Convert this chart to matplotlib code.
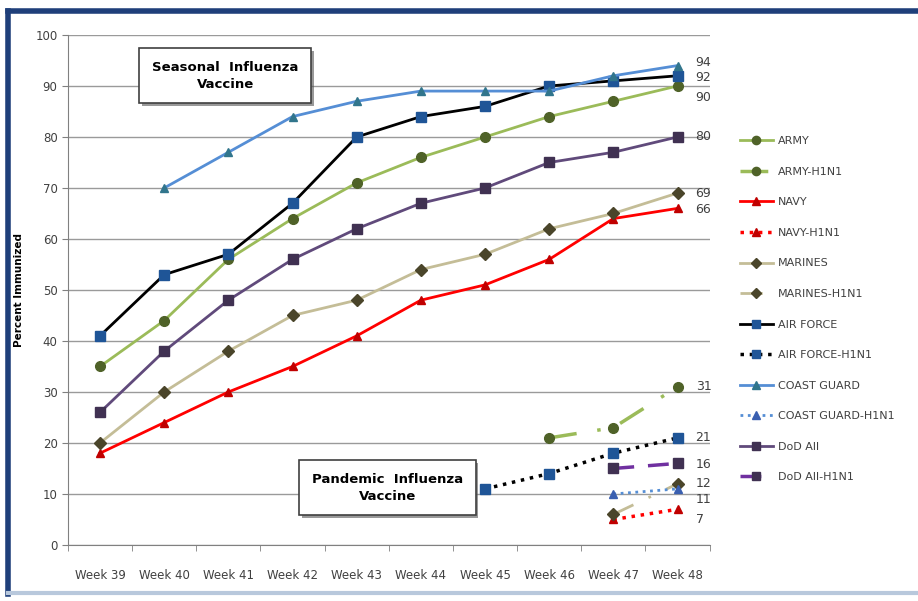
import matplotlib
matplotlib.use('Agg')
import matplotlib.pyplot as plt
import matplotlib.patheffects as pe
from matplotlib.lines import Line2D
from matplotlib.ticker import FixedLocator

# Weekly immunization percentages (None = no report that week)
weeks = ['Week 39', 'Week 40', 'Week 41', 'Week 42', 'Week 43',
         'Week 44', 'Week 45', 'Week 46', 'Week 47', 'Week 48']

army = [35, 44, 56, 64, 71, 76, 80, 84, 87, 90]
army_h1n1 = [None, None, None, None, None, None, None, 21, 23, 31]
navy = [18, 24, 30, 35, 41, 48, 51, 56, 64, 66]
navy_h1n1 = [None, None, None, None, None, None, None, None, 5, 7]
marines = [20, 30, 38, 45, 48, 54, 57, 62, 65, 69]
marines_h1n1 = [None, None, None, None, None, None, None, None, 6, 12]
air_force = [41, 53, 57, 67, 80, 84, 86, 90, 91, 92]
air_force_h1n1 = [None, None, None, None, None, None, 11, 14, 18, 21]
coast_guard = [None, 70, 77, 84, 87, 89, 89, 89, 92, 94]
coast_guard_h1n1 = [None, None, None, None, None, None, None, None, 10, 11]
dod_all = [26, 38, 48, 56, 62, 67, 70, 75, 77, 80]
dod_all_h1n1 = [None, None, None, None, None, None, None, None, 15, 16]

series = [
    ('ARMY', army),
    ('ARMY-H1N1', army_h1n1),
    ('NAVY', navy),
    ('NAVY-H1N1', navy_h1n1),
    ('MARINES', marines),
    ('MARINES-H1N1', marines_h1n1),
    ('AIR FORCE', air_force),
    ('AIR FORCE-H1N1', air_force_h1n1),
    ('COAST GUARD', coast_guard),
    ('COAST GUARD-H1N1', coast_guard_h1n1),
    ('DoD All', dod_all),
    ('DoD All-H1N1', dod_all_h1n1),
]

# line colour, marker colour, marker, linestyle, linewidth
styles = {
    'ARMY':             ('#9BBB59', '#4F6228', 'o', '-', 2.0),
    'ARMY-H1N1':        ('#9BBB59', '#4F6228', 'o', (0, (8, 6, 1, 6)), 2.5),
    'NAVY':             ('#FF0000', '#C00000', '^', '-', 2.0),
    'NAVY-H1N1':        ('#FF0000', '#C00000', '^', ':', 2.5),
    'MARINES':          ('#C4BD97', '#4A452A', 'D', '-', 2.0),
    'MARINES-H1N1':     ('#C4BD97', '#4A452A', 'D', (0, (8, 6, 1, 6)), 2.0),
    'AIR FORCE':        ('#000000', '#1F5597', 's', '-', 2.0),
    'AIR FORCE-H1N1':   ('#000000', '#1F5597', 's', ':', 2.5),
    'COAST GUARD':      ('#558ED5', '#31758C', '^', '-', 2.0),
    'COAST GUARD-H1N1': ('#558ED5', '#3A5FB0', '^', ':', 2.0),
    'DoD All':          ('#604A7B', '#403152', 's', '-', 2.0),
    'DoD All-H1N1':     ('#7030A0', '#403152', 's', (0, (6, 4)), 2.5),
}

fig = plt.figure(figsize=(9.18, 6.01), dpi=100)
ax = fig.add_axes([0.074, 0.0932, 0.699, 0.8486])

x = list(range(len(weeks)))
for name, vals in series:
    lc, mc, mk, ls, lw = styles[name]
    xs = [i for i, v in zip(x, vals) if v is not None]
    ys = [v for v in vals if v is not None]
    ms = 7 if mk in ('o', 's') else 6
    ax.plot(xs, ys, color=lc, linestyle=ls, linewidth=lw, marker=mk,
            markersize=ms, markerfacecolor=mc, markeredgecolor=mc,
            label=name, zorder=3)

# value labels at the last week (name, vertical nudge in points)
end_labels = [('COAST GUARD', 2), ('AIR FORCE', -1), ('ARMY', -8), ('DoD All', 0),
              ('MARINES', 0), ('NAVY', -1), ('ARMY-H1N1', 0), ('AIR FORCE-H1N1', 0),
              ('DoD All-H1N1', -1), ('MARINES-H1N1', 0), ('COAST GUARD-H1N1', -8),
              ('NAVY-H1N1', -7)]
vals_by_name = dict(series)
for name, dy in end_labels:
    v = vals_by_name[name][-1]
    ax.annotate(str(v), xy=(9, v), xytext=(13, dy), textcoords='offset points',
                va='center', ha='left', fontsize=9, color='#404040')

ax.set_xlim(-0.5, 9.5)
ax.set_ylim(0, 100)
ax.set_yticks(range(0, 101, 10))
ax.set_xticks(x)
ax.set_xticklabels(weeks, fontsize=8.5, color='#404040')
ax.xaxis.set_minor_locator(FixedLocator([i + 0.5 for i in range(-1, 10)]))
ax.tick_params(axis='x', which='major', length=0, pad=17)
ax.tick_params(axis='x', which='minor', length=4, color='#808080')
ax.tick_params(axis='y', length=4, color='#808080', labelsize=8.5, labelcolor='#404040')
ax.grid(axis='y', color='#9A9A9A', linewidth=1)
ax.set_axisbelow(True)
for s in ('top', 'right'):
    ax.spines[s].set_visible(False)
for s in ('left', 'bottom'):
    ax.spines[s].set_color('#808080')
ax.set_ylabel('Percent Immunized', fontsize=7.5, fontweight='bold', labelpad=8)

# caption boxes
for txt, bx, by in [('Seasonal  Influenza\nVaccine', 0.245, 0.92),
                    ('Pandemic  Influenza\nVaccine', 0.498, 0.112)]:
    t = ax.text(bx, by, txt, transform=ax.transAxes, ha='center', va='center',
                fontsize=9.5, fontweight='bold', linespacing=1.4, zorder=5,
                bbox=dict(boxstyle='square,pad=0.95', facecolor='white',
                          edgecolor='#404040', linewidth=1.2))
    t.get_bbox_patch().set_path_effects(
        [pe.withSimplePatchShadow(offset=(2, -2), shadow_rgbFace='#555555', alpha=0.6)])

handles, labels = ax.get_legend_handles_labels()
fig.legend(handles, labels, loc='upper left', bbox_to_anchor=(0.795, 0.79),
           frameon=False, fontsize=8, labelspacing=1.85, handlelength=3,
           handletextpad=0.4, labelcolor='#404040', markerscale=0.85)

# outer frame
fig.add_artist(Line2D([0.009, 1.0], [0.981, 0.981], color='#1F3F7A', linewidth=4,
                      transform=fig.transFigure))
fig.add_artist(Line2D([0.009, 0.009], [0.012, 0.981], color='#1F3F7A', linewidth=4,
                      transform=fig.transFigure))
fig.add_artist(Line2D([0.009, 1.0], [0.013, 0.013], color='#B8C8DC', linewidth=3,
                      transform=fig.transFigure))

fig.savefig('out.png', dpi=100)
